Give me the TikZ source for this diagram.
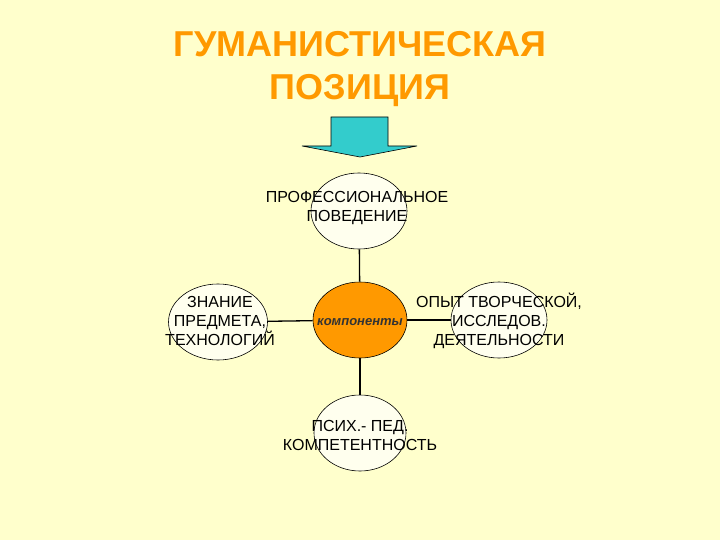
\documentclass[tikz,border=0pt]{standalone}
\usepackage{fontspec}
\setmainfont{Liberation Sans}
\usetikzlibrary{shapes.geometric}
\definecolor{bg}{HTML}{FFFFCC}
\definecolor{titlec}{HTML}{FF9900}
\definecolor{arrowc}{HTML}{33CCCC}
\definecolor{ovalc}{HTML}{FFFFEE}
\definecolor{orangec}{HTML}{FF9900}
\begin{document}
\begin{tikzpicture}[x=1pt,y=-1pt,
  oval/.style={ellipse,draw=black,line width=0.6pt,fill=ovalc,minimum width=96pt,minimum height=76pt,inner sep=0pt},
  lbl/.style={align=center,font=\fontsize{16}{19}\selectfont,inner sep=0pt},
  link/.style={draw=black,line width=1.3pt}]
\fill[bg] (0,0) rectangle (720,540);
\useasboundingbox (0,0) rectangle (720,540);
\node[text=titlec,font=\fontsize{36}{43}\selectfont\bfseries,align=center] (title) at (360,69) {ГУМАНИСТИЧЕСКАЯ\\ПОЗИЦИЯ};
\draw[fill=arrowc,draw=black,line width=0.6pt] (331,117) -- (388,117) -- (388,146) -- (417,146) -- (360,157) -- (302,146) -- (331,146) -- cycle;
\node[oval] (top) at (359,211) {};
\node[oval,fill=orangec,minimum width=94pt] (mid) at (360,320) {};
\node[oval,minimum width=99pt] (left) at (218,322) {};
\node[oval] (right) at (499,320) {};
\node[oval,minimum width=92pt] (bot) at (360,433) {};
\draw[link] (top) -- (mid);
\draw[link] (mid) -- (bot);
\draw[link] (left) -- (mid);
\draw[link] (mid) -- (right);
\node[lbl] (ttop) at (357,208) {ПРОФЕССИОНАЛЬНОЕ\\ПОВЕДЕНИЕ};
\node[lbl] (tleft) at (220,321) {ЗНАНИЕ\\ПРЕДМЕТА,\\ТЕХНОЛОГИЙ};
\node[lbl] (tright) at (499,321) {ОПЫТ ТВОРЧЕСКОЙ,\\ИССЛЕДОВ.\\ДЕЯТЕЛЬНОСТИ};
\node[lbl] (tbot) at (360,435) {ПСИХ.- ПЕД.\\КОМПЕТЕНТНОСТЬ};
\node[font=\fontsize{13}{15}\selectfont\bfseries\itshape,text=black!80,inner sep=0pt] (tmid) at (360,322) {компоненты};
\end{tikzpicture}
\end{document}
